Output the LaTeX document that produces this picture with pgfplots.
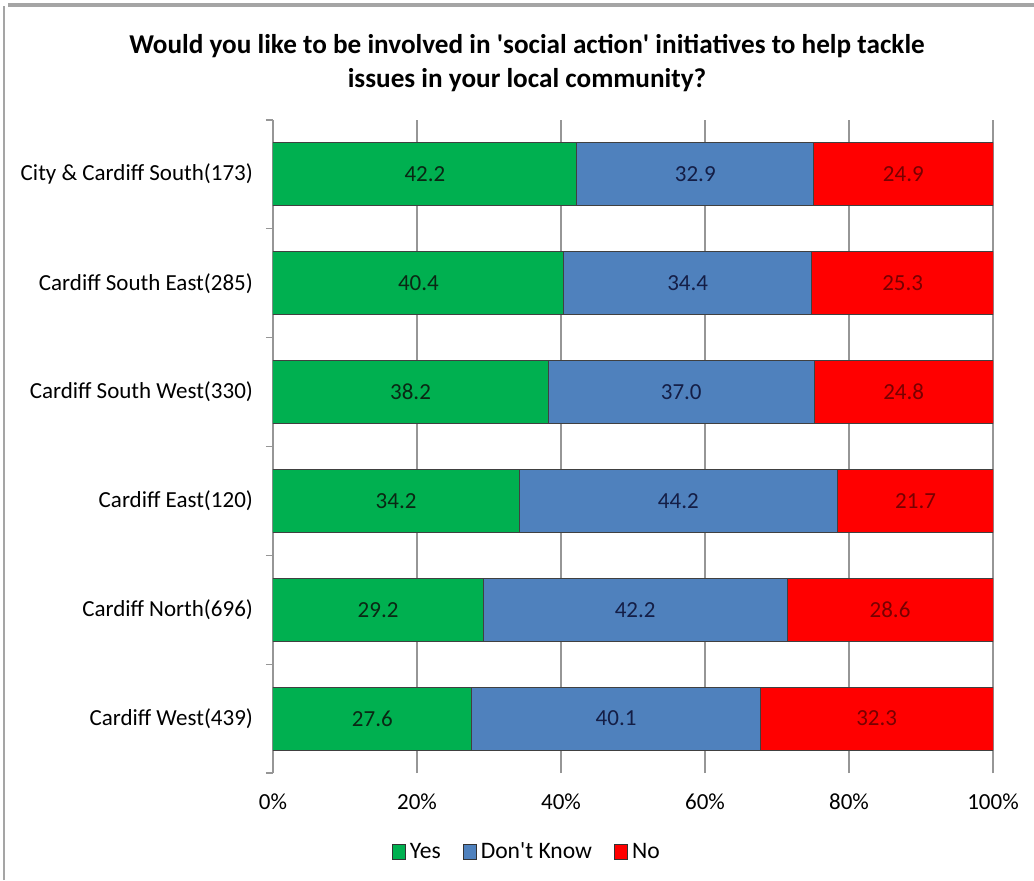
\documentclass[border=0pt]{standalone}
\usepackage{pgfplots}
\pgfplotsset{compat=1.18}
\usepackage{pgfplotstable}
\usepackage{fontspec}
\setmainfont{Carlito}

\definecolor{cgreen}{RGB}{0,176,80}
\definecolor{cblue}{RGB}{79,129,189}
\definecolor{cred}{RGB}{255,0,0}
\definecolor{gridgray}{RGB}{150,150,150}
\definecolor{framegray}{RGB}{165,165,165}
\definecolor{tgreen}{RGB}{10,40,20}
\definecolor{tblue}{RGB}{20,30,70}
\definecolor{tred}{RGB}{120,0,0}

\pgfplotstableread{
idx yes dk no
5 42.2 32.9 24.9
4 40.4 34.4 25.3
3 38.2 37.0 24.8
2 34.2 44.2 21.7
1 29.2 42.2 28.6
0 27.6 40.1 32.3
}\data

\begin{document}
\begin{tikzpicture}
\path[use as bounding box] (0,0) rectangle (517pt,440pt);
\fill[white] (0,0) rectangle (517pt,440pt);
\draw[line width=2pt, color=framegray] (4pt,437.3pt) -- (517pt,437.3pt);
\draw[line width=1pt, color=framegray] (2pt,0) -- (2pt,437pt);
\node[font=\bfseries\fontsize{13.6}{17}\selectfont, align=center] at (263.5pt,408.5pt)
 {Would you like to be involved in \textquotesingle social action\textquotesingle{} initiatives to help tackle\\issues in your local community?};
\begin{axis}[
  at={(136.5pt,53.5pt)}, anchor=south west,
  width=360pt, height=326.5pt, scale only axis,
  xbar stacked, bar width=31.5pt,
  xmin=0, xmax=100, ymin=-0.5, ymax=5.5,
  enlargelimits=false,
  xtick={0,20,40,60,80,100},
  xticklabels={0\%,20\%,40\%,60\%,80\%,100\%},
  ytick={0,1,2,3,4,5},
  yticklabels={Cardiff West(439),Cardiff North(696),Cardiff East(120),Cardiff South West(330),Cardiff South East(285),City \& Cardiff South(173)},
  minor ytick={-0.5,0.5,1.5,2.5,3.5,4.5,5.5},
  major tick length=0pt, minor tick length=3.5pt, tick align=outside,
  xtick pos=bottom, ytick pos=left,
  xmajorgrids, major grid style={color=gridgray, line width=0.6pt},
  minor tick style={color=gridgray, line width=0.6pt},
  separate axis lines,
  x axis line style={draw=none},
  y axis line style={draw=gridgray, line width=0.6pt},
  tick label style={font=\fontsize{11.5}{13}\selectfont, text=black},
  xticklabel style={yshift=-7pt},
  yticklabel style={xshift=-6.5pt},
  legend style={at={(0.354,-0.121)}, anchor=center, draw=none, fill=none,
    legend columns=-1, font=\fontsize{11.8}{13}\selectfont,
    /tikz/every even column/.append style={column sep=9pt}},
  legend image code/.code={\draw[#1, draw=black!80, line width=0.4pt] (0pt,-3.6pt) rectangle (6.6pt,3.6pt);},
]
\addplot[fill=cgreen, draw=black!75, line width=0.5pt] table[x=yes, y=idx] {\data};
\addplot[fill=cblue, draw=black!75, line width=0.5pt] table[x=dk, y=idx] {\data};
\addplot[fill=cred, draw=black!75, line width=0.5pt] table[x=no, y=idx] {\data};
\legend{Yes, Don\textquotesingle t Know, No}
\end{axis}
\begin{axis}[
  at={(136.5pt,53.5pt)}, anchor=south west,
  width=360pt, height=326.5pt, scale only axis,
  hide axis, clip=false,
  xmin=0, xmax=100, ymin=-0.5, ymax=5.5,
  enlargelimits=false,
  nodes near coords, nodes near coords align={center},
  point meta=explicit symbolic,
]
\addplot[only marks, mark=none, every node near coord/.append style={font=\fontsize{11.5}{13}\selectfont, text=tgreen}]
  table[x expr=\thisrow{yes}/2, y=idx, meta=yes] {\data};
\addplot[only marks, mark=none, every node near coord/.append style={font=\fontsize{11.5}{13}\selectfont, text=tblue}]
  table[x expr=\thisrow{yes}+\thisrow{dk}/2, y=idx, meta=dk] {\data};
\addplot[only marks, mark=none, every node near coord/.append style={font=\fontsize{11.5}{13}\selectfont, text=tred}]
  table[x expr=\thisrow{yes}+\thisrow{dk}+\thisrow{no}/2, y=idx, meta=no] {\data};
\end{axis}
\end{tikzpicture}
\end{document}
